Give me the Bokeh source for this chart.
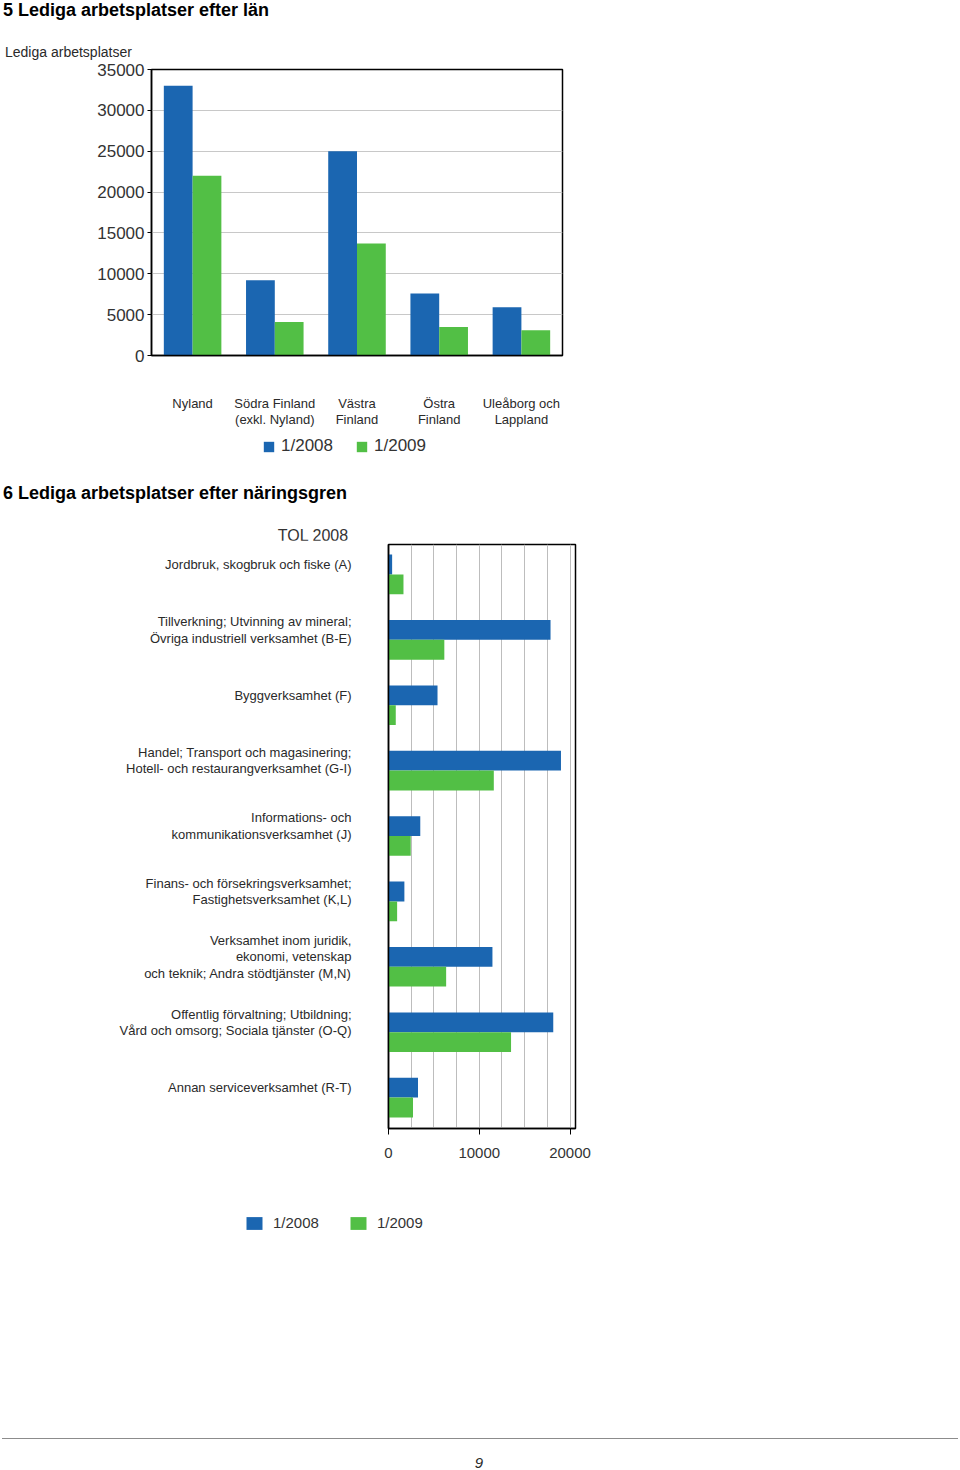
from bokeh.plotting import figure
from bokeh.models import (Range1d, FactorRange, FixedTicker, Legend, LegendItem,
                          ColumnDataSource, Div)
from bokeh.transform import dodge
from bokeh.layouts import column
from bokeh.embed import file_html
from bokeh.resources import INLINE

# ---------------- data: chart 5 ----------------
regions = ["Nyland", "Södra Finland\n(exkl. Nyland)", "Västra\nFinland",
           "Östra\nFinland", "Uleåborg och\nLappland"]
region_2008 = [33000, 9200, 25000, 7600, 5900]
region_2009 = [22000, 4100, 13700, 3500, 3100]
y1_ticks = [0, 5000, 10000, 15000, 20000, 25000, 30000, 35000]

# ---------------- data: chart 6 ----------------
industries = [
    "Jordbruk, skogbruk och fiske (A)",
    "Tillverkning; Utvinning av mineral;\nÖvriga industriell verksamhet (B-E)",
    "Byggverksamhet (F)",
    "Handel; Transport och magasinering;\nHotell- och restaurangverksamhet (G-I)",
    "Informations- och\nkommunikationsverksamhet (J)",
    "Finans- och försekringsverksamhet;\nFastighetsverksamhet (K,L)",
    "Verksamhet inom juridik,\nekonomi, vetenskap\noch teknik; Andra stödtjänster (M,N)",
    "Offentlig förvaltning; Utbildning;\nVård och omsorg; Sociala tjänster (O-Q)",
    "Annan serviceverksamhet (R-T)",
]
industry_2008 = [400, 17850, 5400, 19000, 3500, 1750, 11450, 18150, 3250]
industry_2009 = [1650, 6150, 800, 11600, 2450, 950, 6350, 13500, 2700]
x2_ticks = [0, 10000, 20000]
x2_grid = [2500, 5000, 7500, 10000, 12500, 15000, 17500, 20000]
series = ["1/2008", "1/2009"]

title5 = "5 Lediga arbetsplatser efter län"
ylabel5 = "Lediga arbetsplatser"
title6 = "6 Lediga arbetsplatser efter näringsgren"
ylabel6 = "TOL 2008"
page_no = "9"

BLUE = "#1b66b1"
GREEN = "#52bf45"
FONT = "Liberation Sans"
TXT = "#2a2a2a"

# row slot of each industry, first one at the top
slots = [len(industries) - 1 - i for i in range(len(industries))]

src1 = ColumnDataSource(dict(region=regions, v2008=region_2008, v2009=region_2009))
src2 = ColumnDataSource(dict(ind=industries, slot=slots, v2008=industry_2008, v2009=industry_2009))


def style_legend(pl, renderers, loc, glyph_w, glyph_h, standoff, spacing, font_size):
    pl.grid.visible = False
    pl.outline_line_color = None
    for r in renderers:
        r.visible = False
    leg = Legend(items=[LegendItem(label=s, renderers=[r]) for s, r in zip(series, renderers)],
                 orientation="horizontal", location=loc,
                 glyph_width=glyph_w, glyph_height=glyph_h, label_standoff=standoff,
                 spacing=spacing, padding=0, margin=0, border_line_color=None,
                 background_fill_alpha=0, label_text_font=FONT,
                 label_text_font_size=font_size, label_text_color="#333333",
                 label_height=glyph_h, inactive_fill_alpha=0)
    pl.add_layout(leg)


# ================= header of chart 5 =================
div_a = Div(width=958, height=60, margin=0, text=(
    f"<div style=\"font:bold 18px/20px '{FONT}';color:#000;margin:0 0 0 3px;white-space:nowrap\">{title5}</div>"
    f"<div style=\"font:14px/16px '{FONT}';color:{TXT};margin:24px 0 0 5px;white-space:nowrap\">{ylabel5}</div>"))

# ================= chart 5 =================
p1 = figure(frame_width=411, frame_height=286, x_range=FactorRange(*regions),
            y_range=Range1d(0, 35000), output_backend="svg", toolbar_location=None,
            min_border_left=151, min_border_right=38, min_border_top=9, min_border_bottom=75)
p1.vbar(x=dodge("region", -0.175, range=p1.x_range), top="v2008", width=0.35,
        source=src1, fill_color=BLUE, line_color=None)
p1.vbar(x=dodge("region", 0.175, range=p1.x_range), top="v2009", width=0.35,
        source=src1, fill_color=GREEN, line_color=None)

p1.yaxis.ticker = FixedTicker(ticks=y1_ticks)
p1.yaxis.major_label_text_font = FONT
p1.yaxis.major_label_text_font_size = "17px"
p1.yaxis.major_label_text_color = "#333333"
p1.yaxis.major_tick_out = 4
p1.yaxis.major_tick_in = 0
p1.yaxis.minor_tick_line_color = None
p1.yaxis.major_tick_line_color = "black"
p1.yaxis.axis_line_color = "black"
p1.yaxis.axis_line_width = 1.5
p1.yaxis.major_label_standoff = 3

p1.xaxis.major_tick_line_color = None
p1.xaxis.major_tick_out = 0
p1.xaxis.major_tick_in = 0
p1.xaxis.minor_tick_line_color = None
p1.xaxis.axis_line_color = "black"
p1.xaxis.axis_line_width = 1.5
p1.xaxis.major_label_standoff = 40
p1.xaxis.major_label_text_font = FONT
p1.xaxis.major_label_text_font_size = "13px"
p1.xaxis.major_label_text_line_height = 1.1
p1.xaxis.major_label_text_color = TXT

p1.xgrid.visible = False
p1.ygrid.ticker = FixedTicker(ticks=y1_ticks[1:-1])
p1.ygrid.grid_line_color = "#c8c8c8"
p1.outline_line_color = "black"
p1.outline_line_width = 1.5
p1.outline_line_alpha = 1

# legend strip of chart 5
pl1 = figure(frame_width=600, frame_height=40, x_range=FactorRange(*regions),
             y_range=Range1d(-2, -1), x_axis_location=None, y_axis_location=None,
             min_border=0, output_backend="svg", toolbar_location=None)
r1 = [pl1.vbar(x="region", top=col, width=0.35, source=src1, fill_color=c, line_color=None)
      for col, c in (("v2008", BLUE), ("v2009", GREEN))]
style_legend(pl1, r1, (262, 14), 13, 13, 6, 22, "17px")

# ================= header of chart 6 =================
div_b = Div(width=958, height=70, margin=0, text=(
    f"<div style=\"font:bold 18px/20px '{FONT}';color:#000;margin:13px 0 0 3px;white-space:nowrap\">{title6}</div>"
    f"<div style=\"font:16px/18px '{FONT}';color:#333;margin:24px 0 0 0;width:626px;text-align:center;white-space:nowrap\">{ylabel6}</div>"))

# ================= chart 6 =================
p2 = figure(frame_width=187, frame_height=584, y_range=Range1d(-0.624, 8.306),
            x_range=Range1d(0, 20600), output_backend="svg", toolbar_location=None,
            min_border_left=388, min_border_right=369, min_border_top=4, min_border_bottom=50)
p2.hbar(y="slot", right="v2008", height=0.303,
        source=src2, fill_color=BLUE, line_color=None)
p2.hbar(y=dodge("slot", -0.303), right="v2009", height=0.303,
        source=src2, fill_color=GREEN, line_color=None)

p2.xaxis.ticker = FixedTicker(ticks=x2_ticks)
p2.xaxis.major_tick_out = 6
p2.xaxis.major_tick_in = 0
p2.xaxis.major_tick_line_color = "black"
p2.xaxis.minor_tick_line_color = None
p2.xaxis.axis_line_color = "black"
p2.xaxis.axis_line_width = 1.5
p2.xaxis.major_label_standoff = 13
p2.xaxis.major_label_text_font = FONT
p2.xaxis.major_label_text_font_size = "15px"
p2.xaxis.major_label_text_color = "#333333"

p2.yaxis.ticker = FixedTicker(ticks=slots)
p2.yaxis.major_label_overrides = {s: name for s, name in zip(slots, industries)}
p2.yaxis.major_tick_line_color = None
p2.yaxis.major_tick_out = 0
p2.yaxis.major_tick_in = 0
p2.yaxis.minor_tick_line_color = None
p2.yaxis.axis_line_color = "black"
p2.yaxis.axis_line_width = 1.5
p2.yaxis.major_label_standoff = 37
p2.yaxis.major_label_text_font = FONT
p2.yaxis.major_label_text_font_size = "13px"
p2.yaxis.major_label_text_line_height = 1.1
p2.yaxis.major_label_text_color = TXT

p2.ygrid.visible = False
p2.xgrid.ticker = FixedTicker(ticks=x2_grid)
p2.xgrid.grid_line_color = "#bdbdbd"
p2.outline_line_color = "black"
p2.outline_line_width = 1.5
p2.outline_line_alpha = 1

# legend strip of chart 6
pl2 = figure(frame_width=944, frame_height=72, y_range=FactorRange(*industries),
             x_range=Range1d(-2, -1), x_axis_location=None, y_axis_location=None,
             min_border=0, output_backend="svg", toolbar_location=None)
r2 = [pl2.hbar(y="ind", right=col, height=0.31, source=src2, fill_color=c, line_color=None)
      for col, c in (("v2008", BLUE), ("v2009", GREEN))]
style_legend(pl2, r2, (244, 19), 20, 16, 9, 29, "15px")

# ================= page footer =================
div_c = Div(width=958, height=215, margin=0, text=(
    "<div style=\"height:188px\"></div>"
    "<div style=\"margin-left:2px;width:956px;border-top:1px solid #8c8c8c\"></div>"
    f"<div style=\"width:958px;text-align:center;padding-top:15px;font:italic 15px/18px '{FONT}';color:{TXT}\">{page_no}</div>"))

# two independent roots, so the two charts keep their own plot-frame positions
root1 = column(div_a, p1, pl1, div_b, spacing=0)
root2 = column(p2, pl2, div_c, spacing=0)
open("out.html", "w").write(file_html([root1, root2], INLINE))
